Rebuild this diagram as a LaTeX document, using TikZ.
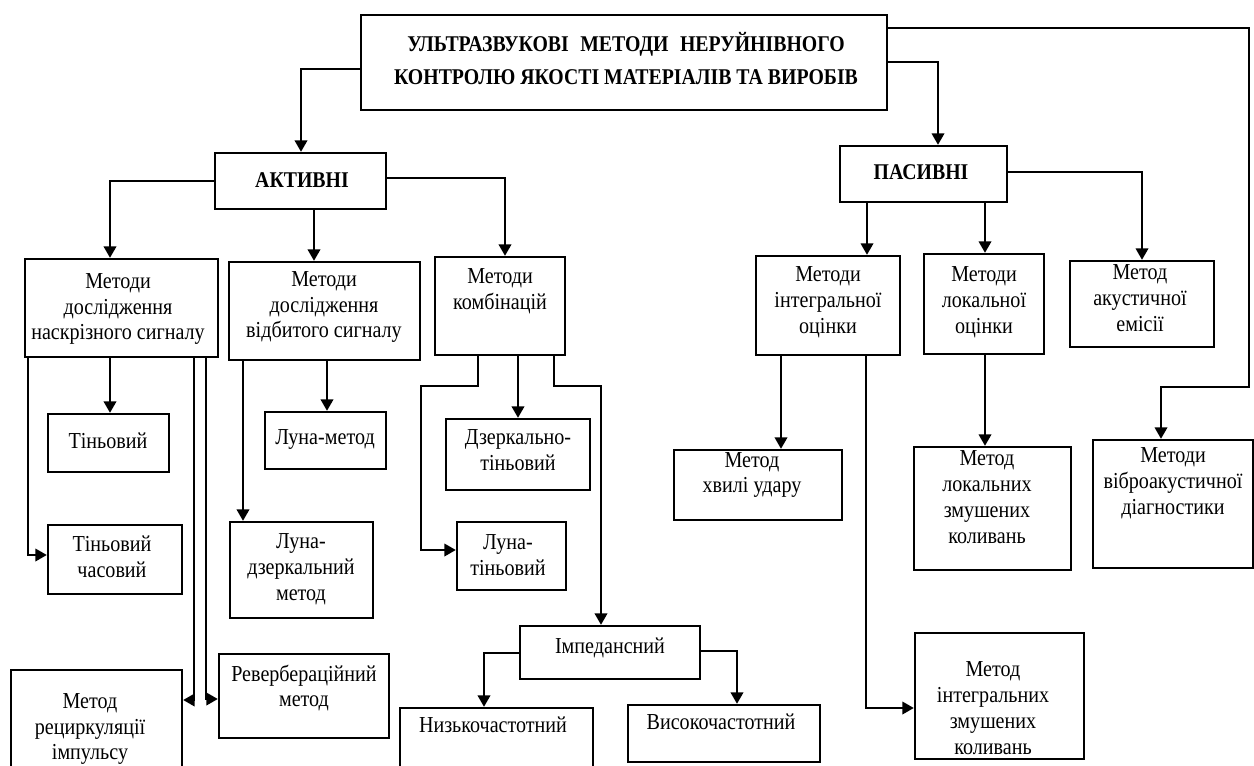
\documentclass[tikz,border=0pt]{standalone}
\usepackage{fontspec}
\setmainfont{Liberation Serif}[FakeStretch=0.88]
\usetikzlibrary{arrows.meta}

\tikzset{
  box/.style={draw, rectangle, line width=1.3pt, inner sep=0pt},
  lbl/.style={align=center, inner sep=0pt, font=\fontsize{13}{14.7}\selectfont},
  head/.style={align=center, inner sep=0pt, font=\fontsize{12.8}{18.7}\selectfont\bfseries},
  arr/.style={line width=1.4pt, -{Triangle[length=6.5pt,width=7pt]}},
}

% #1 name, #2 left, #3 top, #4 right, #5 bottom, #6 text x, #7 text y, #8 text
\newcommand\blockbox[8]{%
  \pgfmathsetmacro\bw{(#4-#2)*0.02}%
  \pgfmathsetmacro\bh{(#5-#3)*0.02}%
  \node[box, minimum width=\bw cm, minimum height=\bh cm] (#1) at ({(#2+#4)/2},{(#3+#5)/2}) {};
  \node[lbl] (#1-txt) at (#6,#7) {#8};}

\begin{document}
\begin{tikzpicture}[x=0.02cm, y=-0.02cm]
\useasboundingbox (0,0) rectangle (1254,765);
\clip (0,0) rectangle (1254,765);

% headings
\node[box, minimum width=10.52cm, minimum height=1.9cm] (title) at (624,62.5) {};
\node[head] (title-txt) at (626,58.5)
  {\hbox to 249pt{УЛЬТРАЗВУКОВІ\hfill МЕТОДИ\hfill НЕРУЙНІВНОГО}\\
   КОНТРОЛЮ ЯКОСТІ МАТЕРІАЛІВ ТА ВИРОБІВ};
\node[box, minimum width=3.42cm, minimum height=1.12cm] (act) at (300.5,181) {};
\node[head] (act-txt) at (302,180) {АКТИВНІ};
\node[box, minimum width=3.34cm, minimum height=1.12cm] (pas) at (923.5,174) {};
\node[head] (pas-txt) at (921,172) {ПАСИВНІ};

% active methods
\blockbox{b1}{25}{259}{218}{357}{118}{309}{Методи\\дослідження\\наскрізного сигналу}
\blockbox{b2}{229}{262}{420}{360}{324}{307}{Методи\\дослідження\\відбитого сигналу}
\blockbox{b3}{435}{257}{565}{355}{500}{291}{Методи\\комбінацій}
\blockbox{tin}{48}{414}{169}{472}{108}{441}{Тіньовий}
\blockbox{lm}{265}{412}{386}{469}{325}{439}{Луна-метод}
\blockbox{dzt}{446}{419}{590}{490}{518}{450}{Дзеркально-\\тіньовий}
\blockbox{tch}{48}{525}{182}{594}{112}{557}{Тіньовий\\часовий}
\blockbox{ldz}{230}{522}{373}{618}{301}{569}{Луна-\\дзеркальний\\метод}
\blockbox{lt}{457}{522}{566}{590}{508}{555}{Луна-\\тіньовий}
\blockbox{imp}{520}{626}{700}{679}{610}{648}{Імпедансний}
\blockbox{nz}{400}{708}{593}{800}{493}{725}{Низькочастотний}
\blockbox{vs}{628}{705}{820}{762}{721}{722}{Високочастотний}
\blockbox{rev}{219}{654}{389}{738}{304}{688}{Ревербераційний\\метод}
\blockbox{rec}{11}{670}{182}{800}{90}{729}{Метод\\рециркуляції\\імпульсу}

% passive methods
\blockbox{int}{756}{256}{900}{355}{828}{302}{Методи\\інтегральної\\оцінки}
\blockbox{loc}{924}{254}{1044}{354}{984}{302}{Методи\\локальної\\оцінки}
\blockbox{ak}{1070}{261}{1214}{347}{1140}{298}{Метод\\акустичної\\емісії}
\blockbox{hv}{674}{450}{842}{520}{752}{475}{Метод\\хвилі удару}
\blockbox{lzk}{914}{447}{1071}{570}{987}{497}{Метод\\локальних\\змушених\\коливань}
\blockbox{vib}{1093}{440}{1253}{568}{1173}{483}{Методи\\віброакустичної\\діагностики}
\blockbox{izk}{915}{633}{1084}{759}{993}{708}{Метод\\інтегральних\\змушених\\коливань}

% connectors from the heading
\draw[arr] (title.west |- 0,69) -| (act.north -| 301,0);
\draw[arr] (title.east |- 0,62) -| (pas.north -| 938,0);
\draw[arr] (title.east |- 0,28) -| (1249,387) -| (vib.north -| 1161,0);

% active branch
\draw[arr] (act.west |- 0,181) -| (b1.north -| 110,0);
\draw[arr] (act.south -| 314,0) -- (b2.north -| 314,0);
\draw[arr] (act.east |- 0,178) -| (b3.north -| 505,0);

\draw[arr] (b1.south -| 110,0) -- (tin.north -| 110,0);
\draw[arr] (b1.south -| 28,0) |- (tch.west |- 0,555);
\draw[arr] (b1.south -| 194,0) |- (rec.east |- 0,700);
\draw[arr] (b1.south -| 206,0) |- (rev.west |- 0,699);

\draw[arr] (b2.south -| 327,0) -- (lm.north -| 327,0);
\draw[arr] (b2.south -| 243,0) -- (ldz.north -| 243,0);

\draw[arr] (b3.south -| 478,0) |- (421,386) |- (lt.west |- 0,550);
\draw[arr] (b3.south -| 518,0) -- (dzt.north -| 518,0);
\draw[arr] (b3.south -| 554,0) |- (601,386) -- (imp.north -| 601,0);

\draw[arr] (imp.west |- 0,653) -| (nz.north -| 484,0);
\draw[arr] (imp.east |- 0,651) -| (vs.north -| 737,0);

% passive branch
\draw[arr] (pas.south -| 867,0) -- (int.north -| 867,0);
\draw[arr] (pas.south -| 985,0) -- (loc.north -| 985,0);
\draw[arr] (pas.east |- 0,172) -| (ak.north -| 1142,0);

\draw[arr] (int.south -| 781,0) -- (hv.north -| 781,0);
\draw[arr] (int.south -| 866,0) |- (izk.west |- 0,708);
\draw[arr] (loc.south -| 985,0) -- (lzk.north -| 985,0);
\end{tikzpicture}
\end{document}
